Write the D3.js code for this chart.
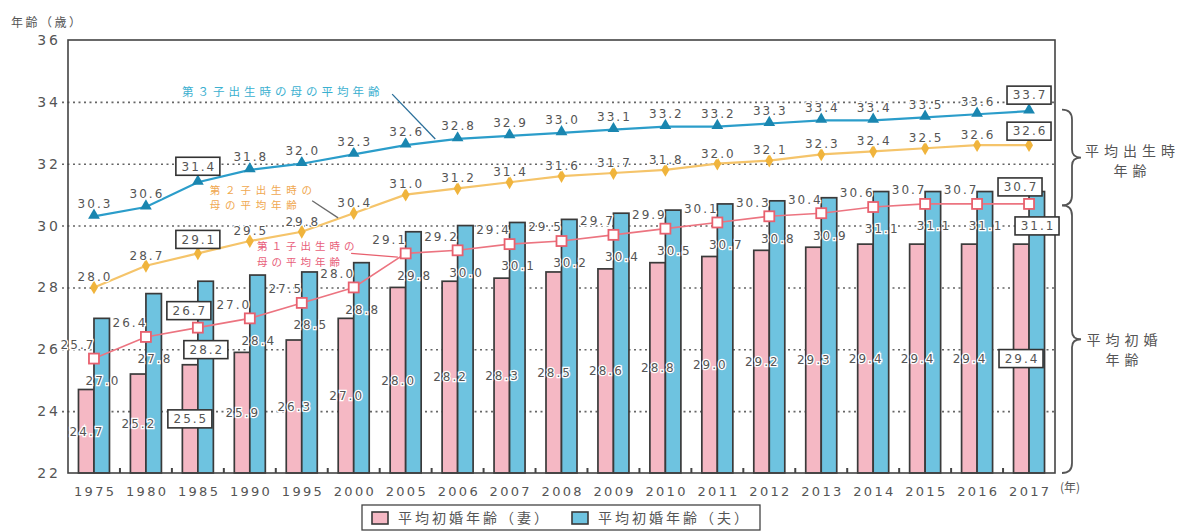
<!DOCTYPE html>
<html><head><meta charset="utf-8">
<script src="https://cdn.jsdelivr.net/npm/d3@7"></script>
<style>body{margin:0;background:#fff} svg{display:block}</style>
</head><body>
<svg id="c" width="1188" height="532"></svg>
<script>
// ---------- data ----------
const years = ["1975","1980","1985","1990","1995","2000","2005","2006","2007","2008","2009","2010","2011","2012","2013","2014","2015","2016","2017"];
const wifeFirstMarriage    = [24.7,25.2,25.5,25.9,26.3,27.0,28.0,28.2,28.3,28.5,28.6,28.8,29.0,29.2,29.3,29.4,29.4,29.4,29.4];
const husbandFirstMarriage = [27.0,27.8,28.2,28.4,28.5,28.8,29.8,30.0,30.1,30.2,30.4,30.5,30.7,30.8,30.9,31.1,31.1,31.1,31.1];
const motherFirstChild     = [25.7,26.4,26.7,27.0,27.5,28.0,29.1,29.2,29.4,29.5,29.7,29.9,30.1,30.3,30.4,30.6,30.7,30.7,30.7];
const motherSecondChild    = [28.0,28.7,29.1,29.5,29.8,30.4,31.0,31.2,31.4,31.6,31.7,31.8,32.0,32.1,32.3,32.4,32.5,32.6,32.6];
const motherThirdChild     = [30.3,30.6,31.4,31.8,32.0,32.3,32.6,32.8,32.9,33.0,33.1,33.2,33.2,33.3,33.4,33.4,33.5,33.6,33.7];
const yTicks = [22,24,26,28,30,32,34,36];
const gridTicks = [24,26,28,30,32,34];
const boxedYears = ["1985","2017"];
const legendLabels = ["平均初婚年齢（妻）","平均初婚年齢（夫）"];
const yTitle = "年齢（歳）";
const xUnit = "(年)";
const braceLabels = [["平均出生時","年齢"],["平均初婚","年齢"]];
const annoThird = ["第３子出生時の母の平均年齢"];
const annoSecond = ["第２子出生時の","母の平均年齢"];
const annoFirst = ["第１子出生時の","母の平均年齢"];

// ---------- setup ----------
const NUM = "'DejaVu Sans', sans-serif";
const JP = "'Noto Sans CJK JP', 'Noto Sans CJK SC', sans-serif";
const svg = d3.select("#c");
const L = 68, R = 1055, T = 40, B = 473;
const x = d3.scaleBand().domain(years).range([L, R]).padding(0);
const xi = d3.scaleLinear().domain([-0.5, years.length - 0.5]).range([L, R]);
const y = d3.scaleLinear().domain([22, 36]).range([B, T]);
const cx = d => x(d) + x.bandwidth() / 2;
const bw = 15.5;

const col = {
  pink: "#f5b8c4", blue: "#6ec3e0", edge: "#3a3a3a",
  third: "#2b9dca", thirdMk: "#1a86b0",
  second: "#f5c46a", secondMk: "#f0b43c",
  first: "#ec7480", firstMk: "#e8606e",
  text: "#555"
};

// ---------- grid ----------
svg.append("g").attr("transform", `translate(${L},0)`)
  .call(d3.axisLeft(y).tickValues(gridTicks).tickSize(-(R - L) - 6).tickFormat(""))
  .call(g => g.select(".domain").remove())
  .call(g => g.selectAll(".tick line").attr("transform", "translate(-6,0)")
    .attr("stroke", "#666").attr("stroke-width", 1.6).attr("stroke-dasharray", "2,3.5"));

// ---------- bars ----------
const bars = svg.append("g");
bars.selectAll("rect.w").data(years).join("rect")
  .attr("x", d => cx(d) - bw).attr("width", bw)
  .attr("y", (d, i) => y(wifeFirstMarriage[i])).attr("height", (d, i) => y(22) - y(wifeFirstMarriage[i]))
  .attr("fill", col.pink).attr("stroke", col.edge).attr("stroke-width", 1.7);
bars.selectAll("rect.h").data(years).join("rect")
  .attr("x", d => cx(d)).attr("width", bw)
  .attr("y", (d, i) => y(husbandFirstMarriage[i])).attr("height", (d, i) => y(22) - y(husbandFirstMarriage[i]))
  .attr("fill", col.blue).attr("stroke", col.edge).attr("stroke-width", 1.7);

// ---------- frame & axes ----------
svg.append("rect").attr("x", L).attr("y", T).attr("width", R - L).attr("height", B - T)
  .attr("fill", "none").attr("stroke", "#444").attr("stroke-width", 1.6);

const yAx = svg.append("g").attr("transform", `translate(${L},0)`)
  .call(d3.axisLeft(y).tickValues(yTicks).tickSize(0).tickPadding(8).tickFormat(d3.format("d")));
yAx.select(".domain").remove();
yAx.selectAll("text").attr("font-family", NUM).attr("font-size", 14).attr("fill", col.text)
  .attr("letter-spacing", 3).attr("dx", 1);

const xAx = svg.append("g").attr("transform", `translate(0,${B})`)
  .call(d3.axisBottom(x).tickSize(0).tickPadding(14));
xAx.select(".domain").remove();
xAx.selectAll("text").attr("font-family", NUM).attr("font-size", 13).attr("fill", col.text)
  .attr("letter-spacing", 2.3).attr("dx", 1.2);
// small ticks between groups
svg.append("g").selectAll("line").data(years.slice(1)).join("line")
  .attr("x1", d => x(d)).attr("x2", d => x(d)).attr("y1", B).attr("y2", B - 5)
  .attr("stroke", "#444").attr("stroke-width", 2);
svg.append("text").attr("x", R + 5).attr("y", B + 19).text(xUnit)
  .attr("font-family", JP).attr("font-size", 12).attr("fill", col.text);
svg.append("text").attr("x", 11).attr("y", 27).text(yTitle)
  .attr("font-family", JP).attr("font-size", 12).attr("fill", col.text).attr("letter-spacing", 2.5);

// ---------- lines ----------
function series(vals, lineCol, w) {
  svg.append("path").datum(vals)
    .attr("d", d3.line().x((v, i) => cx(years[i])).y(v => y(v)))
    .attr("fill", "none").attr("stroke", lineCol).attr("stroke-width", w);
}
series(motherThirdChild, col.third, 2.2);
series(motherSecondChild, col.second, 2.2);
series(motherFirstChild, col.first, 1.6);

svg.append("g").selectAll("path").data(motherThirdChild).join("path")
  .attr("d", d3.symbol(d3.symbolTriangle, 60))
  .attr("transform", (v, i) => `translate(${cx(years[i])},${y(v) - 1})`)
  .attr("fill", col.thirdMk);
svg.append("g").selectAll("path").data(motherSecondChild).join("path")
  .attr("d", d3.symbol(d3.symbolDiamond, 55))
  .attr("transform", (v, i) => `translate(${cx(years[i])},${y(v)})`)
  .attr("fill", col.secondMk);
svg.append("g").selectAll("rect").data(motherFirstChild).join("rect")
  .attr("x", (v, i) => cx(years[i]) - 5).attr("y", v => y(v) - 5).attr("width", 10).attr("height", 10)
  .attr("fill", "#fff").attr("stroke", col.firstMk).attr("stroke-width", 1.8);

// ---------- annotations ----------
function multi(lines, x0, baseYs, color, size, ls) {
  lines.forEach((s, k) => svg.append("text").attr("x", x0).attr("y", baseYs[k]).text(s)
    .attr("font-family", JP).attr("font-size", size).attr("fill", color).attr("letter-spacing", ls));
}
function leader(a, b, color) {
  svg.append("line").attr("x1", xi(a[0])).attr("y1", y(a[1])).attr("x2", xi(b[0])).attr("y2", y(b[1]))
    .attr("stroke", color).attr("stroke-width", 1.3);
}
multi(annoThird, xi(1.695), [y(34.19)], "#3bb0d0", 11.5, 4);
leader([5.74, 34.25], [6.57, 32.80], "#2a6f9a");
multi(annoSecond, xi(2.23), [y(31.02), y(30.52)], "#f0a850", 10.5, 4.8);
leader([4.20, 30.80], [4.70, 30.25], "#6a6a6a");
multi(annoFirst, xi(3.14), [y(29.20), y(28.70)], "#e8607a", 10.5, 4);
leader([4.95, 29.10], [5.85, 28.98], "#e8606e");

// ---------- value labels ----------
const lab = svg.append("g");
function label(txt, px, py, boxed) {
  if (boxed) {
    const w = 44, h = 18;
    lab.append("rect").attr("x", px - w / 2).attr("y", py - h / 2).attr("width", w).attr("height", h)
      .attr("fill", "#fff").attr("stroke", "#333").attr("stroke-width", 1.6);
  }
  lab.append("text").attr("x", px + 1).attr("y", py).attr("dy", "0.36em").text(txt)
    .attr("text-anchor", "middle").attr("font-family", NUM).attr("font-size", 12)
    .attr("letter-spacing", 2).attr("fill", col.text)
    .attr("stroke", boxed ? "none" : "#fff").attr("stroke-width", 2.5).attr("paint-order", "stroke");
}
const f1 = d3.format(".1f");
years.forEach((yr, i) => {
  const c = cx(yr), bx = boxedYears.includes(yr);
  label(f1(motherThirdChild[i]), c, y(motherThirdChild[i]) - (bx ? 16 : 13), bx);
  label(f1(motherSecondChild[i]), c, y(motherSecondChild[i]) - (bx ? 14 : 10.5), bx);
  label(f1(motherFirstChild[i]), c - (bx ? 9 : 17), y(motherFirstChild[i]) - (bx ? 17 : 14), bx);
  label(f1(husbandFirstMarriage[i]), c + 8, y(motherFirstChild[i]) + 22, bx);
  label(f1(wifeFirstMarriage[i]), c - 8, y((wifeFirstMarriage[i] + 22) / 2), bx);
});

// ---------- braces ----------
function brace(v0, v1) {
  const t = y(v0), b = y(v1), m = (t + b) / 2, x0 = 1062, x1 = 1072, x2 = 1081;
  svg.append("path").attr("d",
    `M${x0},${t} Q${x1},${t} ${x1},${t + 10} L${x1},${m - 8} Q${x1},${m} ${x2},${m} Q${x1},${m} ${x1},${m + 8} L${x1},${b - 10} Q${x1},${b} ${x0},${b}`)
    .attr("fill", "none").attr("stroke", "#555").attr("stroke-width", 1.8);
  return m;
}
const m1 = brace(33.75, 30.65), m2 = brace(30.65, 22);
function centered(lines, px, ys) {
  lines.forEach((s, k) => svg.append("text").attr("x", px + 2.5).attr("y", ys[k]).text(s)
    .attr("text-anchor", "middle").attr("font-family", JP).attr("font-size", 14)
    .attr("fill", col.text).attr("letter-spacing", 5));
}
centered(braceLabels[0], 1130, [m1 - 2, m1 + 18]);
centered(braceLabels[1], 1122, [m2 + 6, m2 + 26]);

// ---------- legend ----------
const lg = svg.append("g");
lg.append("rect").attr("x", 362).attr("y", 505).attr("width", 398).attr("height", 25)
  .attr("fill", "#fff").attr("stroke", "#444").attr("stroke-width", 1.3);
[[col.pink, 372, legendLabels[0]], [col.blue, 572, legendLabels[1]]].forEach(([c, lx, t]) => {
  lg.append("rect").attr("x", lx).attr("y", 512).attr("width", 16).attr("height", 12)
    .attr("fill", c).attr("stroke", col.edge).attr("stroke-width", 1.6);
  lg.append("text").attr("x", lx + 26).attr("y", 523).text(t)
    .attr("font-family", JP).attr("font-size", 14).attr("fill", col.text).attr("letter-spacing", 3);
});
</script>
</body></html>
